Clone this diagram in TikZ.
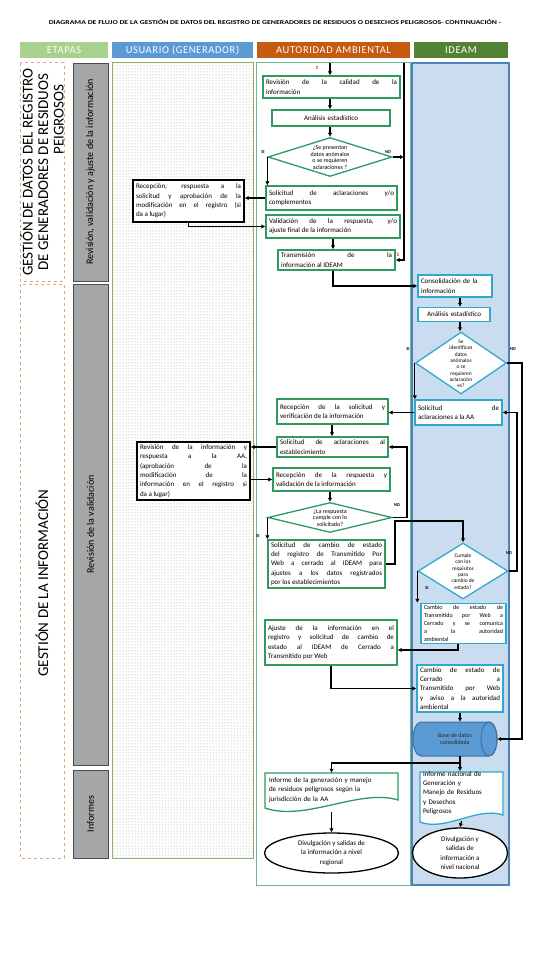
\documentclass[tikz,border=0pt]{standalone}
\usepackage{fontspec}
\usepackage{graphicx}
\setmainfont{Carlito}
\usetikzlibrary{shapes.geometric,arrows.meta,calc,patterns}
\definecolor{hdrgreen}{HTML}{A9D18E}
\definecolor{hdrblue}{HTML}{5B9BD5}
\definecolor{hdrorange}{HTML}{C55A11}
\definecolor{hdrdkgreen}{HTML}{548235}
\definecolor{aagreen}{HTML}{2E9A5E}
\definecolor{idcyan}{HTML}{31A9C9}
\definecolor{idfill}{HTML}{C9DCF0}
\definecolor{idborder}{HTML}{4F81BD}
\definecolor{stgray}{HTML}{A6A6A6}
\definecolor{dashor}{HTML}{E4A672}
\definecolor{cylfill}{HTML}{5B9BD5}
\definecolor{cylborder}{HTML}{41719C}
\definecolor{redlbl}{HTML}{C00000}
\definecolor{usline}{HTML}{8DB36B}
\newcommand\txa{\fontsize{7}{9.3}\selectfont\hyphenpenalty=10000 }
\newcommand\txb{\fontsize{6}{7.8}\selectfont\hyphenpenalty=10000 }
\newcommand\txd{\fontsize{6}{6.8}\selectfont}
\newcommand\hdrfont{\fontsize{10.5}{12}\selectfont\addfontfeatures{LetterSpace=6}}
\begin{document}
\begin{tikzpicture}[x=1pt,y=-1pt,
 aabox/.style={draw=aagreen,line width=1.3pt,fill=white,font=\txa,inner xsep=3pt,inner ysep=1pt,align=justify},
 idbox/.style={aabox,draw=idcyan},
 usbox/.style={aabox,draw=black},
 dia/.style={diamond,draw=aagreen,line width=1.3pt,fill=white,inner sep=0pt},
 dtext/.style={font=\txd,align=center,inner sep=0pt},
 arr/.style={-{Latex[length=4pt,width=4.5pt]},line width=1.2pt},
 ln/.style={line width=1.2pt},
 lbl/.style={font=\fontsize{4.5}{5}\selectfont\bfseries,inner sep=0pt},
 hdr/.style={text=white,font=\hdrfont,minimum height=16pt,inner sep=0pt},
 stg/.style={rotate=90,draw=gray!60!black,fill=stgray,line width=0.8pt,minimum height=35pt,inner sep=0pt,font=\fontsize{10}{11}\selectfont},
 redone/.style={text=redlbl,font=\fontsize{5}{6}\selectfont\bfseries,inner sep=0pt},
]
\useasboundingbox (0,0) rectangle (540,960);
\fill[white] (0,0) rectangle (540,960);

% title
\node[font=\fontsize{6}{7}\selectfont\bfseries] (title) at (275,22) {\scalebox{1.3}[1]{DIAGRAMA DE FLUJO DE LA GESTIÓN DE DATOS DEL REGISTRO DE GENERADORES DE RESIDUOS O DESECHOS PELIGROSOS- CONTINUACIÓN -}};

% headers
\node[hdr,fill=hdrgreen,minimum width=88pt] (hE) at (64,50) {ETAPAS};
\node[hdr,fill=hdrblue,minimum width=141pt] (hU) at (182.5,50) {USUARIO (GENERADOR)};
\node[hdr,fill=hdrorange,minimum width=153pt] (hA) at (333.5,50) {AUTORIDAD AMBIENTAL};
\node[hdr,fill=hdrdkgreen,minimum width=94pt] (hI) at (461,50) {IDEAM};

% stages
\draw[dashor,dashed,line width=1pt] (20,63) rectangle (64,281);
\draw[dashor,dashed,line width=1pt] (20,284) rectangle (64,858);
\node[rotate=90,font=\fontsize{15}{15.5}\selectfont,align=center] (st1) at (42,172) {GESTIÓN DE DATOS DEL REGISTRO\\DE GENERADORES DE RESIDUOS\\\hspace*{105pt}PEIGROSOS};
\node[rotate=90,font=\fontsize{15}{16}\selectfont] (st2) at (42,583) {GESTIÓN DE LA INFORMACIÓN};
\node[stg,minimum width=218pt] (g1) at (90.5,172) {Revisión, validación y ajuste de la información};
\node[stg,minimum width=481pt] (g2) at (90.5,524.5) {Revisión de la validación};
\node[stg,minimum width=88pt] (g3) at (90.5,814) {Informes};

% columns
\fill[white] (112,63) rectangle (253,858);
\fill[pattern=dots,pattern color=gray!75] (112,63) rectangle (253,858);
\draw[usline,line width=1pt] (112,63) rectangle (253,858);
\draw[aagreen!70!white,line width=1pt] (256,63) rectangle (410,885);
\draw[idborder,line width=1.5pt,fill=idfill] (412,63) rectangle (509,885);

% ---------- top block ----------
\coordinate (t1) at (330,63);
\coordinate (t2) at (404,63);
\node[redone] (one1) at (317,68) {1};
\node[aabox,text width=131pt,minimum height=22pt] (rev) at (331.5,87) {Revisión de la calidad de la\linebreak información};
\node[aabox,text width=112pt,minimum height=16pt,align=center] (ana) at (331,118) {Análisis estadístico};
\node[dia,minimum width=124pt,minimum height=39pt] (d1) at (330,157) {};
\node[dtext] (d1t) at (330,157.5) {¿Se presentan\\datos anómalos\\o se requieren\\aclaraciones ?};
\node[lbl] (si1) at (263,152) {SI};
\node[lbl] (no1) at (388,152) {NO};
\node[aabox,text width=125pt,minimum height=24pt] (sol1) at (331.5,198) {Solicitud de aclaraciones y/o\linebreak complementos};
\node[aabox,text width=128pt,minimum height=23pt] (val) at (333,226.5) {Validación de la respuesta, y/o\linebreak ajuste final de la información};
\node[aabox,text width=111pt,minimum height=20pt] (tra) at (336.5,260) {Transmisión de la\linebreak información al IDEAM};
\node[redone] (one2) at (398,255) {1};
\node[usbox,text width=105pt,minimum height=42pt] (u1) at (188.5,201) {Recepción, respuesta a la\linebreak solicitud y aprobación de la\linebreak modificación en el registro (si\linebreak da a lugar)};

\draw[arr] (t1) -- (rev.north -| t1);
\draw[arr] (rev.south -| 330,0) -- (ana.north -| 330,0);
\draw[arr] (ana.south -| 330,0) -- (d1.north);
\draw[arr] (d1.west) -- (d1.west |- sol1.north);
\draw[arr] (d1.east) -- (d1.east -| t2);
\draw[arr] (t2) |- (tra.east);
\draw[arr] (sol1.west) -- (sol1.west -| u1.east);
\draw[arr] (u1.south) |- (val.west);
\draw[arr] (val.south -| 333,0) -- (tra.north -| 333,0);

% ---------- IDEAM first block ----------
\node[idbox,text width=68pt,minimum height=22pt,align=left] (con) at (455,286) {Consolidación de la\\información};
\node[idbox,text width=66pt,minimum height=14pt,align=center] (ana2) at (454,314.5) {Análisis estadístico};
\node[dia,draw=idcyan,minimum width=91pt,minimum height=62pt] (d2) at (461,363) {};
\node[dtext,font=\fontsize{5.4}{6.3}\selectfont] (d2t) at (461,364) {Se\\identifican\\datos\\anómalos\\o se\\requieren\\aclaración\\es?};
\node[lbl] (si2) at (408,349) {SI};
\node[lbl] (no2) at (513,349) {NO};
\node[idbox,text width=81pt,minimum height=25pt] (sol2) at (458.5,412.5) {Solicitud de\linebreak aclaraciones a la AA};

\draw[arr] (tra.south -| 333,0) |- (con.west);
\draw[arr] (con.south -| 460,0) -- (ana2.north -| 460,0);
\draw[arr] (ana2.south -| 460,0) -- (d2.north -| 460,0);
\draw[arr] (d2.west) -- (d2.west |- sol2.north);

% ---------- AA second block ----------
\node[aabox,text width=105pt,minimum height=25pt] (rec) at (332.5,411.5) {Recepción de la solicitud y\linebreak verificación de la información};
\node[aabox,text width=105pt,minimum height=20pt] (sol3) at (332.5,447) {Solicitud de aclaraciones al\linebreak establecimiento};
\node[usbox,text width=107pt,minimum height=58pt] (u2) at (193.5,471) {Revisión de la información y\linebreak respuesta a la AA,\linebreak (aprobación de la\linebreak modificación de la\linebreak información en el registro si\linebreak da a lugar)};
\node[aabox,text width=111pt,minimum height=23pt] (rec2) at (331.5,479.5) {Recepción de la respuesta y\linebreak validación de la información};
\node[dia,minimum width=124pt,minimum height=30pt] (d4) at (330,517.5) {};
\node[dtext] (d4t) at (330,518) {¿La respuesta\\cumple con lo\\solicitado?};
\node[lbl] (no4) at (397,505) {NO};
\node[lbl] (si4) at (258,536) {SI};
\node[aabox,text width=111pt,minimum height=48pt] (sol4) at (326.5,564) {Solicitud de cambio de estado\linebreak del registro de Transmitido Por\linebreak Web a cerrado al IDEAM para\linebreak ajustes a los datos registrados\linebreak por los establecimientos};

\draw[arr] (sol2.west) -- (sol2.west -| rec.east);
\draw[arr] (rec.south -| 332,0) -- (sol3.north -| 332,0);
\draw[arr] (sol3.west) -- (sol3.west -| u2.east);
\draw[arr] (rec2.west -| u2.east) -- (rec2.west);
\draw[arr] (rec2.south -| 330,0) -- (d4.north);
\draw[arr] (d4.west) -- (d4.west |- sol4.north);
\draw[arr] (d4.east) -- (407,517.5) |- (sol3.east);

% ---------- IDEAM second block ----------
\node[dia,draw=idcyan,minimum width=90pt,minimum height=56pt] (d3) at (463,571) {};
\node[dtext,font=\fontsize{5.4}{6.4}\selectfont] (d3t) at (463,571.5) {Cumple\\con los\\requisitos\\para\\cambio de\\estado?};
\node[lbl] (si3) at (427,588) {SI};
\node[lbl] (no3) at (509,553) {NO};
\node[idbox,font=\txb,text width=79pt,minimum height=40pt] (cam1) at (463.5,623.5) {Cambio de estado de\linebreak Transmitido por Web a\linebreak Cerrado y se comunica\linebreak a la autoridad\linebreak ambiental};
\node[aabox,text width=126pt,minimum height=45pt] (aj) at (331,642.5) {Ajuste de la información en el\linebreak registro y solicitud de cambio de\linebreak estado al IDEAM de Cerrado a\linebreak Transmitido por Web};
\node[idbox,text width=80pt,minimum height=47pt] (cam2) at (460,688.5) {Cambio de estado de\linebreak Cerrado a\linebreak Transmitido por Web\linebreak y aviso a la autoridad\linebreak ambiental};

% database cylinder (horizontal)
\draw[cylborder,line width=1pt,fill=cylfill] (421,722) -- (489,722) arc[start angle=-90,end angle=90,x radius=8,y radius=17] -- (421,756) arc[start angle=90,end angle=270,x radius=8,y radius=17] -- cycle;
\draw[cylborder,line width=1pt] (489,739) ellipse[x radius=8,y radius=17];
\node[minimum width=84pt,minimum height=34pt,inner sep=0pt,font=\fontsize{6}{7.5}\selectfont,align=center,text=black!85] (bd) at (455,739) {Base de datos\\consolidada};

\draw[arr] (sol4.east) -| (395,521) -| (d3.north);
\draw[arr] (d2.east) -- (522,363) |- (bd.east);
\draw[arr] (d3.east) -- (517,571) |- (sol2.east);
\draw[arr] (d3.west) -- (d3.west |- cam1.north);
\draw[arr] (cam1.south -| 458,0) |- (aj.east |- 0,650);
\draw[arr] (aj.south) |- (cam2.west);
\draw[arr] (cam2.south -| 460,0) -- (bd.north -| 460,0);

% ---------- reports ----------
\draw[aagreen,line width=1.3pt,fill=white] (265,773) -- (398,773) -- (398,800) .. controls (360,788) and (305,822) .. (265,808) -- cycle;
\node[font=\txa,text width=125pt,align=left,minimum width=133pt,minimum height=34pt,inner sep=0pt] (inf1) at (331.5,790) {Informe de la generación y manejo\\de residuos peligrosos según la\\jurisdicción de la AA};
\draw[idcyan,line width=1.3pt,fill=white] (420,772) -- (503,772) -- (503,815) .. controls (478,806) and (445,832) .. (420,822) -- cycle;
\node[font=\txa,text width=77pt,align=left,minimum width=83pt,minimum height=42pt,inner sep=0pt] (inf2) at (461.5,793) {Informe nacional de\\Generación y\\Manejo de Residuos\\y Desechos\\Peligrosos};
\node[ellipse,draw=black,line width=1.3pt,fill=white,minimum width=134pt,minimum height=40pt,inner sep=0pt,font=\txa,align=center] (div1) at (331.5,853) {Divulgación y salidas de\\la información a nivel\\regional};
\node[ellipse,draw=black,line width=1.3pt,fill=white,minimum width=95pt,minimum height=50pt,inner sep=0pt,font=\txa,align=center] (div2) at (460,853) {Divulgación y\\salidas de\\información a\\nivel nacional};

\coordinate (jb) at (460,763);
\draw[ln] (bd.south -| 460,0) -- (jb);
\draw[arr] (jb) -- (inf2.north -| jb);
\draw[arr] (jb) -| (inf1.north);
\draw[arr] (inf1.south |- 0,812) -- (div1.north);
\draw[arr] (inf2.south |- 0,821) -- (div2.north);
\end{tikzpicture}
\end{document}
